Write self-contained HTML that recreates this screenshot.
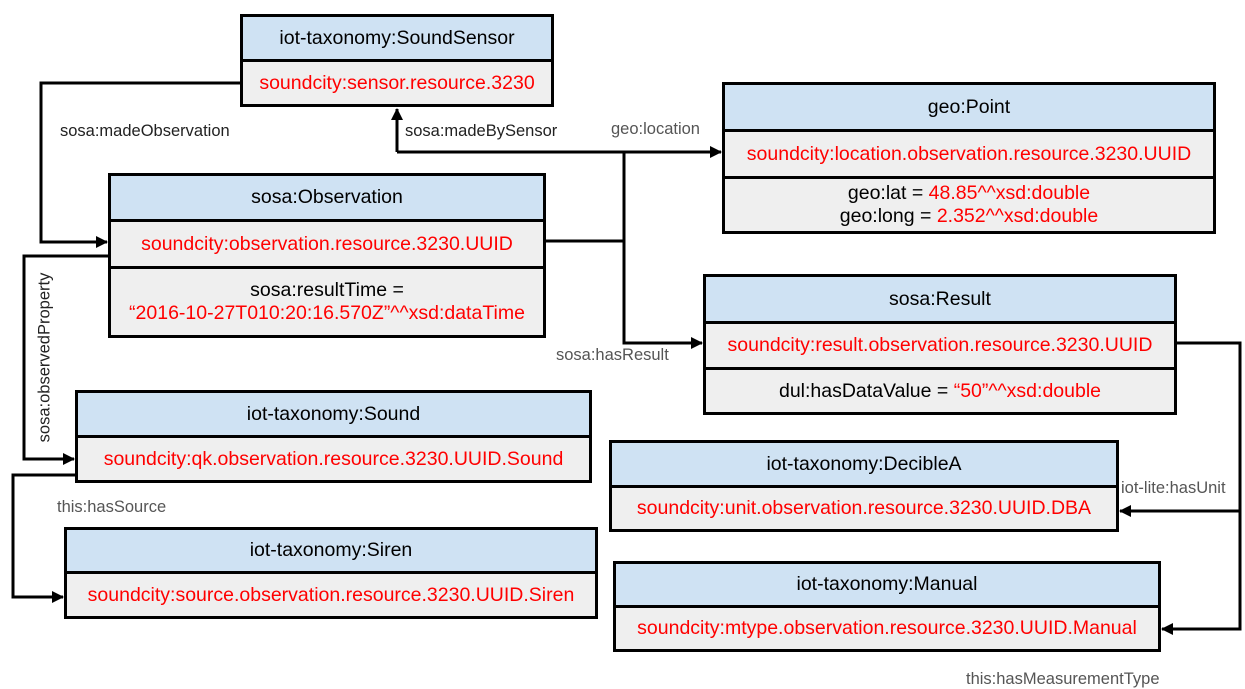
<!DOCTYPE html>
<html><head><meta charset="utf-8"><style>
body{margin:0;width:1245px;height:689px;background:#fff;position:relative;overflow:hidden;font-family:"Liberation Sans",sans-serif}
.b{position:absolute;border:3px solid #000;box-sizing:content-box;background:#efefef}
.r{display:flex;align-items:center;justify-content:center;text-align:center;font-size:19.5px;color:#000;box-sizing:content-box;line-height:23px;white-space:nowrap}
.r+.r{border-top:3px solid #000}
.h{background:#cfe2f3}
.red{color:#f00}
.l{position:absolute;font-size:16.5px;color:#222;white-space:nowrap}
.g{color:#555}
svg{position:absolute;left:0;top:0}
</style></head><body>
<svg width="1245" height="689">
<defs><marker id="a" markerWidth="12" markerHeight="12" refX="11" refY="6" orient="auto" markerUnits="userSpaceOnUse"><path d="M0,0 L12,6 L0,12 z" fill="#000"/></marker></defs>
<g stroke="#000" stroke-width="3" fill="none">
<polyline points="240,83 41,83 41,242 107,242" marker-end="url(#a)"/>
<polyline points="545,241 624,241"/>
<polyline points="624,152 624,343 702,343" marker-end="url(#a)"/>
<polyline points="397,152 721,152" marker-end="url(#a)"/>
<polyline points="397,152 397,109" marker-end="url(#a)"/>
<polyline points="109,256 24,256 24,459 74,459" marker-end="url(#a)"/>
<polyline points="76,475 13,475 13,597 63,597" marker-end="url(#a)"/>
<polyline points="1176,343 1240,343 1240,629 1162,629" marker-end="url(#a)"/>
<polyline points="1240,511 1120,511" marker-end="url(#a)"/>
</g></svg>

<div class="b" style="left:240px;top:14px;width:308px"><div class="r h" style="height:42px">iot-taxonomy:SoundSensor</div><div class="r red" style="height:42px">soundcity:sensor.resource.3230</div></div>

<div class="b" style="left:108px;top:173px;width:432px"><div class="r h" style="height:43px">sosa:Observation</div><div class="r red" style="height:44px">soundcity:observation.resource.3230.UUID</div><div class="r" style="height:66px;flex-direction:column">sosa:resultTime =<br><span class="red">“2016-10-27T010:20:16.570Z”^^xsd:dataTime</span></div></div>

<div class="b" style="left:722px;top:82px;width:488px"><div class="r h" style="height:44px">geo:Point</div><div class="r red" style="height:44px">soundcity:location.observation.resource.3230.UUID</div><div class="r" style="height:52px;flex-direction:column"><span>geo:lat = <span class="red">48.85^^xsd:double</span></span><span>geo:long = <span class="red">2.352^^xsd:double</span></span></div></div>

<div class="b" style="left:703px;top:274px;width:468px"><div class="r h" style="height:44px">sosa:Result</div><div class="r red" style="height:43px">soundcity:result.observation.resource.3230.UUID</div><div class="r" style="height:42px">dul:hasDataValue =&nbsp;<span class="red">“50”^^xsd:double</span></div></div>

<div class="b" style="left:75px;top:390px;width:511px"><div class="r h" style="height:42px">iot-taxonomy:Sound</div><div class="r red" style="height:42px">soundcity:qk.observation.resource.3230.UUID.Sound</div></div>

<div class="b" style="left:64px;top:527px;width:528px"><div class="r h" style="height:41px">iot-taxonomy:Siren</div><div class="r red" style="height:42px">soundcity:source.observation.resource.3230.UUID.Siren</div></div>

<div class="b" style="left:609px;top:440px;width:504px"><div class="r h" style="height:42px">iot-taxonomy:DecibleA</div><div class="r red" style="height:41px">soundcity:unit.observation.resource.3230.UUID.DBA</div></div>

<div class="b" style="left:613px;top:561px;width:542px"><div class="r h" style="height:41px">iot-taxonomy:Manual</div><div class="r red" style="height:41px">soundcity:mtype.observation.resource.3230.UUID.Manual</div></div>

<div class="l" style="left:60px;top:122px">sosa:madeObservation</div>
<div class="l" style="left:405px;top:122px">sosa:madeBySensor</div>
<div class="l g" style="left:611px;top:120px">geo:location</div>
<div class="l g" style="left:556px;top:346px">sosa:hasResult</div>
<div class="l" style="left:-47px;top:348px;transform:rotate(-90deg);transform-origin:center;width:184px;text-align:center">sosa:observedProperty</div>
<div class="l g" style="left:57px;top:498px">this:hasSource</div>
<div class="l g" style="left:1121px;top:479px">iot-lite:hasUnit</div>
<div class="l g" style="left:966px;top:670px">this:hasMeasurementType</div>
</body></html>
